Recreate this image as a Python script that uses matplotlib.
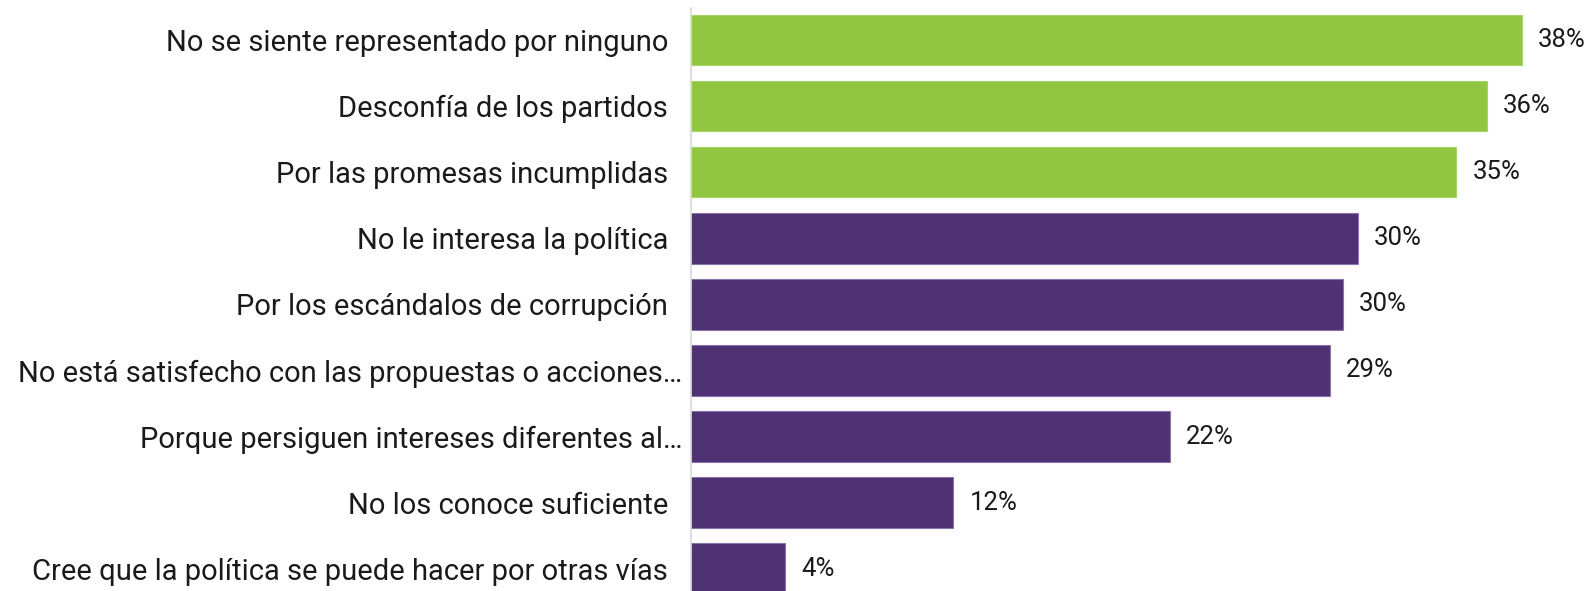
import matplotlib.pyplot as plt

# categories top to bottom
categories = [
    "No se siente representado por ninguno  ",
    "Desconfía de los partidos  ",
    "Por las promesas incumplidas  ",
    "No le interesa la política  ",
    "Por los escándalos de corrupción  ",
    "No está satisfecho con las propuestas o acciones…",
    "Porque persiguen intereses diferentes al…",
    "No los conoce suficiente  ",
    "Cree que la política se puede hacer por otras vías  ",
]
values = [38.0, 36.4, 35.0, 30.5, 29.8, 29.2, 21.9, 12.0, 4.3]
value_labels = ["38%", "36%", "35%", "30%", "30%", "29%", "22%", "12%", "4%"]
highlight = [True, True, True, False, False, False, False, False, False]

GREEN = "#92c641"
PURPLE = "#4f3273"

plt.rcParams['font.family'] = ['Roboto', 'DejaVu Sans']

fig = plt.figure(figsize=(15.91, 5.91), dpi=100)
ax = fig.add_axes([691 / 1591, 0.0, 1 - 691 / 1591, 1 - 8 / 591])

ypos = list(range(len(categories)))
colors = [GREEN if h else PURPLE for h in highlight]
edges = ["#a6d36a" if h else "#8a73ad" for h in highlight]
ax.barh(ypos, values, height=0.76, color=colors, edgecolor=edges, linewidth=0.8)

for y, v, lab in zip(ypos, values, value_labels):
    ax.annotate(lab, (v, y), xytext=(16, 0), textcoords="offset pixels",
                va="center", ha="left", fontsize=18.5, color="#1a1a1a")

ax.set_yticks(ypos)
ax.set_yticklabels(categories, fontsize=21, color="#1a1a1a")
ax.tick_params(axis="y", length=0, pad=6)
ax.set_xticks([])
ax.set_xlim(0, 41.15)
ax.set_ylim(8.34, -0.49)

for side in ["top", "right", "bottom"]:
    ax.spines[side].set_visible(False)
ax.spines["left"].set_color("#d9d9d9")
ax.spines["left"].set_linewidth(1.2)

fig.savefig("out.png", dpi=100)
